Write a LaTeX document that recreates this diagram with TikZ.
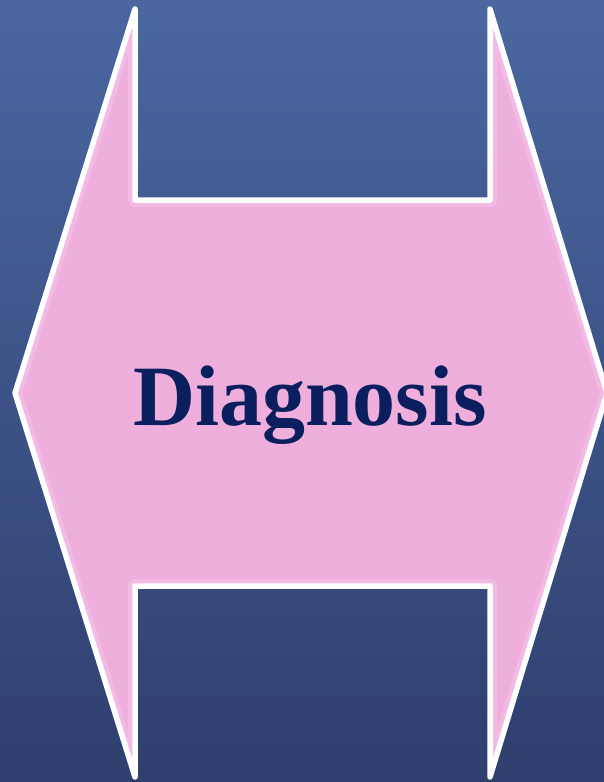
\documentclass[tikz,border=0pt]{standalone}
\usepackage{fontspec}
\setmainfont{Liberation Serif}
\begin{document}
\begin{tikzpicture}[x=1pt,y=-1pt,
  shapeedge/.style={draw=white,line width=5.5pt,line join=round,line cap=round,fill=pinkfill},
  innerglow/.style={draw=pinkglow,line width=14pt,line join=round},
  label/.style={font=\fontsize{86}{90}\selectfont\bfseries,text=navytext,inner sep=0pt,anchor=base}]
\definecolor{bgtop}{HTML}{4A67A0}
\definecolor{bgbot}{HTML}{2F3F6E}
\definecolor{pinkfill}{HTML}{EFAFDC}
\definecolor{pinkglow}{HTML}{F6C2E8}
\definecolor{navytext}{HTML}{0B1F5E}
\useasboundingbox (0,0) rectangle (604,782);
\shade[top color=bgtop,bottom color=bgbot] (0,0) rectangle (604,782);
\coordinate (A) at (135,9);
\coordinate (B) at (135,200);
\coordinate (C) at (490,200);
\coordinate (D) at (490,9);
\coordinate (E) at (607,393);
\coordinate (F) at (490,777);
\coordinate (G) at (490,586);
\coordinate (H) at (135,586);
\coordinate (I) at (135,777);
\coordinate (J) at (15,393);
\fill[pinkfill] (A) -- (B) -- (C) -- (D) -- (E) -- (F) -- (G) -- (H) -- (I) -- (J) -- cycle;
\begin{scope}
\clip (A) -- (B) -- (C) -- (D) -- (E) -- (F) -- (G) -- (H) -- (I) -- (J) -- cycle;
\draw[innerglow,opacity=0.6] (A) -- (B) -- (C) -- (D) -- (E) -- (F) -- (G) -- (H) -- (I) -- (J) -- cycle;
\end{scope}
\path[shapeedge,fill=none] (A) -- (B) -- (C) -- (D) -- (E) -- (F) -- (G) -- (H) -- (I) -- (J) -- cycle;
\node[label] (txt) at (310,425) {Diagnosis};
\end{tikzpicture}
\end{document}
